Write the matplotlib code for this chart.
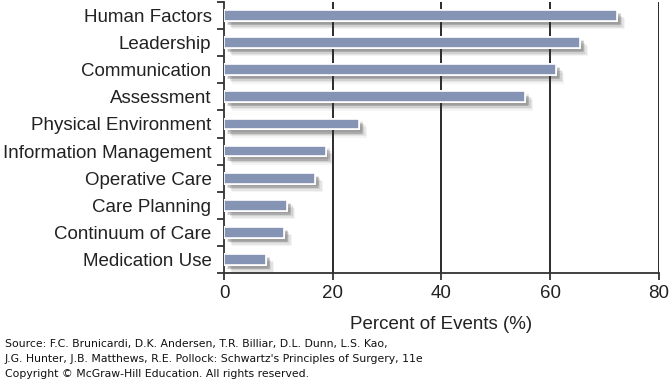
import numpy as np
import matplotlib.pyplot as plt
import matplotlib.patheffects as pe

categorias = ['Human Factors', 'Leadership', 'Communication', 'Assessment',
              'Physical Environment', 'Information Management', 'Operative Care',
              'Care Planning', 'Continuum of Care', 'Medication Use']
porcentajes = [72.3, 65.5, 61.1, 55.4, 24.8, 18.7, 16.7, 11.6, 11.0, 7.7]
xticks = [0, 20, 40, 60, 80]

fuente = ("Source: F.C. Brunicardi, D.K. Andersen, T.R. Billiar, D.L. Dunn, L.S. Kao,\n"
          "J.G. Hunter, J.B. Matthews, R.E. Pollock: Schwartz's Principles of Surgery, 11e\n"
          "Copyright \u00a9 McGraw-Hill Education. All rights reserved.")

plt.rcParams['font.family'] = ['Liberation Sans', 'DejaVu Sans']

fig = plt.figure(figsize=(6.7, 3.88), dpi=100)
ax = fig.add_axes([224/670, 1-273/388, (658.7-224)/670, (273-2)/388])

# sombra difusa: varias sombras desplazadas con poca opacidad
sombra = []
for dx, dy, a in [(6, -6, 0.05), (5, -5, 0.08), (4, -4, 0.1), (3, -3, 0.13), (2, -3, 0.12), (3, -2, 0.1)]:
  sombra.append(pe.withSimplePatchShadow(offset=(dx, dy), shadow_rgbFace='#333333', alpha=a))
sombra.append(pe.Normal())

y = np.arange(len(categorias))
ax.barh(y, porcentajes, height=0.4, color='#8593b5', edgecolor='white', linewidth=1.2,
        zorder=3, path_effects=sombra)

for xv in xticks[1:]:
  ax.axvline(xv, color='#1a1a1a', linewidth=1.3, zorder=1)

ax.set_xlim(0, 80)
ax.set_ylim(len(categorias) - 0.5, -0.5)
ax.set_xticks(xticks)
ax.set_xticklabels([str(v) for v in xticks], fontsize=13.5, color='#222222')
ax.set_yticks(y)
ax.set_yticklabels(categorias, fontsize=13.5, color='#222222')
ax.tick_params(axis='y', which='major', length=0, pad=9)
ax.set_yticks(np.arange(-0.5, len(categorias), 1), minor=True)
ax.tick_params(axis='y', which='minor', length=5, width=1.3, color='#333333')
ax.tick_params(axis='x', length=5, width=1.3, color='#333333', pad=4)

for s in ['top', 'right']:
  ax.spines[s].set_visible(False)
for s in ['left', 'bottom']:
  ax.spines[s].set_linewidth(1.3)
  ax.spines[s].set_color('#333333')

ax.set_xlabel('Percent of Events (%)', fontsize=13.5, color='#222222', labelpad=10)

fig.text(5/670, 1-339/388, fuente, fontsize=7.8, family='DejaVu Sans', va='top',
         ha='left', linespacing=1.6, color='#111111')

plt.savefig('out.png', dpi=100)
